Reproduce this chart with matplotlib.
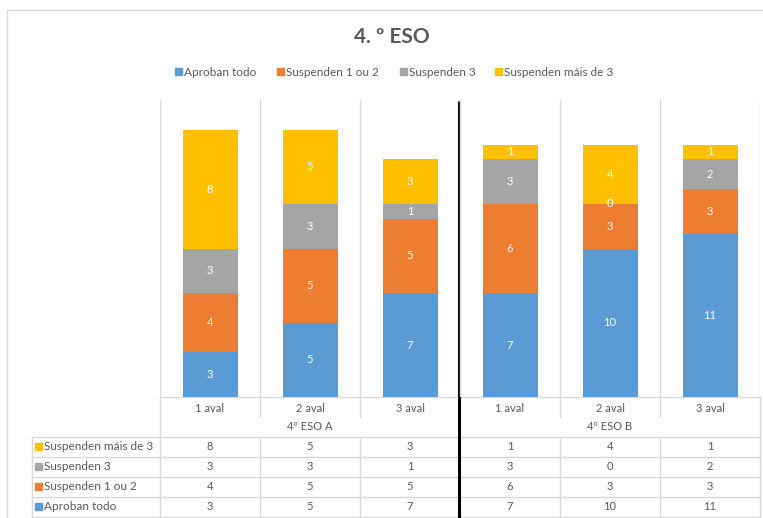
import matplotlib
matplotlib.use("Agg")
import matplotlib.pyplot as plt
from matplotlib.patches import Rectangle

plt.rcParams['font.family'] = ['Lato', 'DejaVu Sans']

title = "4. º ESO"
groups = ["4º ESO A", "4º ESO B"]
categories = ["1 aval", "2 aval", "3 aval", "1 aval", "2 aval", "3 aval"]
series_names = ["Aproban todo", "Suspenden 1 ou 2", "Suspenden 3", "Suspenden máis de 3"]
aproban_todo = [3, 5, 7, 7, 10, 11]
suspenden_1_2 = [4, 5, 5, 6, 3, 3]
suspenden_3 = [3, 3, 1, 3, 0, 2]
suspenden_mais_3 = [8, 5, 3, 1, 4, 1]
colors = ["#5B9BD5", "#ED7D31", "#A5A5A5", "#FFC000"]

series = [aproban_todo, suspenden_1_2, suspenden_3, suspenden_mais_3]

W, H = 763, 518
fig = plt.figure(figsize=(W / 100, H / 100), dpi=100)

# overlay axes in pixel coordinates
ov = fig.add_axes([0, 0, 1, 1])
ov.set_xlim(0, W)
ov.set_ylim(H, 0)
ov.axis('off')

# plot area in pixels
L, R, T, B = 160, 760, 100, 397
ax = fig.add_axes([L / W, (H - B) / H, (R - L) / W, (B - T) / H])
ax.set_xlim(0, len(categories))
ax.set_ylim(0, 20)
ax.axis('off')

xs = [i + 0.5 for i in range(len(categories))]
bottoms = [0] * len(categories)
for vals, col in zip(series, colors):
    ax.bar(xs, vals, width=0.55, bottom=bottoms, color=col, zorder=3)
    for x, v, b in zip(xs, vals, bottoms):
        ax.text(x, b + v / 2, str(v), ha='center', va='center', color='white',
                fontsize=8, zorder=4)
    bottoms = [b + v for b, v in zip(bottoms, vals)]

grid_c = "#D9D9D9"
for i in range(len(categories) + 1):
    ax.axvline(i, color=grid_c, lw=1, zorder=1)

text_c = "#595959"
# outer chart border
ov.plot([7, 7], [10, H], color="#D9D9D9", lw=1)
ov.plot([7, W], [10, 10], color="#D9D9D9", lw=1)

# title
ov.text(392, 37, title, ha='center', va='center', fontsize=15, fontweight='bold', color=text_c)

# legend
leg_x = [175, 277, 400, 495]
for lx, name, col in zip(leg_x, series_names, colors):
    ov.add_patch(Rectangle((lx, 68), 7, 7, color=col))
    ov.text(lx + 9, 72, name, ha='left', va='center', fontsize=8.5, color=text_c)

# data table
col_w = (R - L) / len(categories)
ov.plot([L, R], [B, B], color=grid_c, lw=1)
ov.plot([L, L], [B, 517], color=grid_c, lw=1)
ov.plot([R, R], [B, 517], color=grid_c, lw=1)
for i in range(1, len(categories)):
    xx = L + i * col_w
    ov.plot([xx, xx], [B, 417], color=grid_c, lw=1)
    ov.plot([xx, xx], [437, 517], color=grid_c, lw=1)
for yy in [437, 457, 477, 497, 517]:
    ov.plot([32, R], [yy, yy], color=grid_c, lw=1)
ov.plot([32, 32], [437, 517], color=grid_c, lw=1)

for i, c in enumerate(categories):
    ov.text(L + (i + 0.5) * col_w, 408, c, ha='center', va='center', fontsize=8, color=text_c)
for g, gname in enumerate(groups):
    ov.text(L + (g * 3 + 1.5) * col_w, 427, gname, ha='center', va='center', fontsize=8, color=text_c)

row_y = [507, 487, 467, 447]
for vals, name, col, ry in zip(series, series_names, colors, row_y):
    ov.add_patch(Rectangle((35, ry - 4), 7, 7, color=col))
    ov.text(44, ry, name, ha='left', va='center', fontsize=8.5, color=text_c)
    for i, v in enumerate(vals):
        ov.text(L + (i + 0.5) * col_w, ry, str(v), ha='center', va='center', fontsize=8, color=text_c)

# black separator line
ov.plot([458.5, 458.5], [101, H], color='black', lw=2.2, solid_capstyle='butt')

fig.savefig("out.png", dpi=100)
